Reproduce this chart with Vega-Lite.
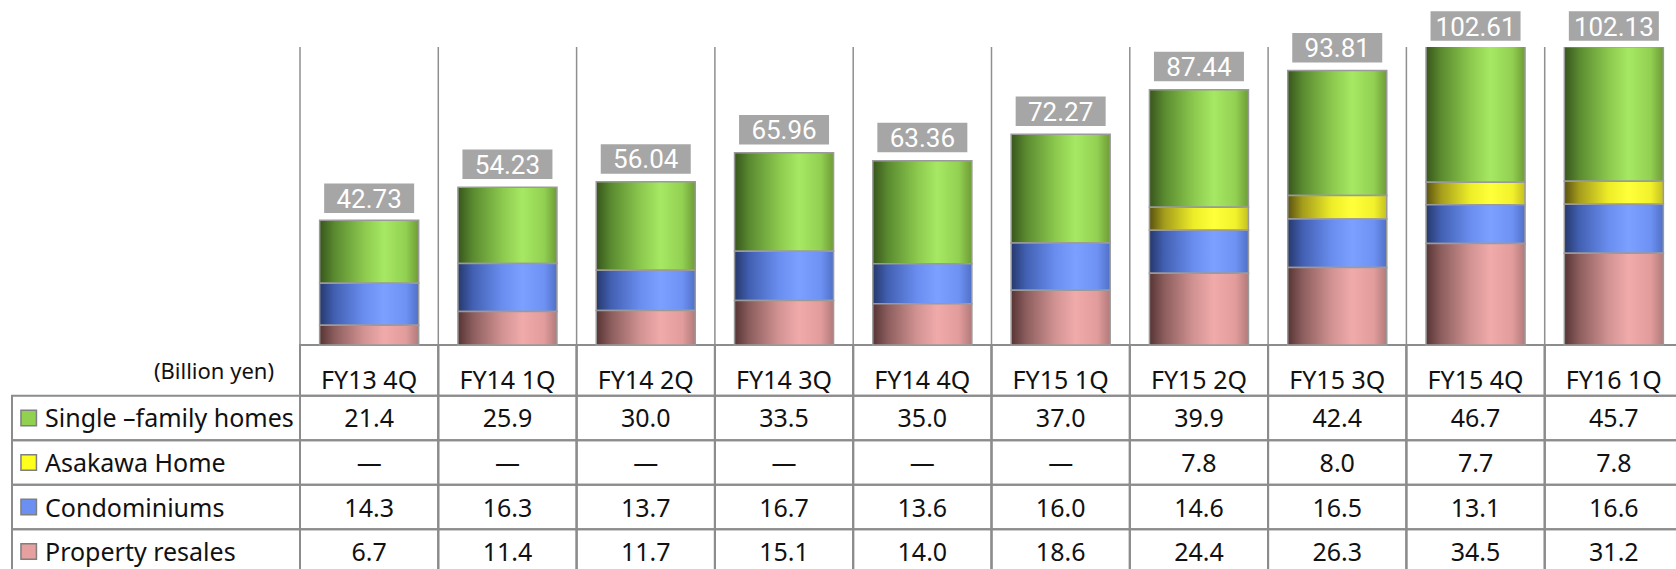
{
  "$schema": "https://vega.github.io/schema/vega-lite/v6.json",
  "width": 1664,
  "height": 522,
  "autosize": {"type": "none"},
  "padding": {"left": 12, "top": 47, "right": 0, "bottom": 0},
  "background": "white",
  "config": {"view": {"stroke": null}, "font": "Noto Sans"},
  "datasets": {
    "segments": [
      {"cat": "FY13 4Q", "series": "Single –family homes", "row": 1, "value": 21.4},
      {"cat": "FY14 1Q", "series": "Single –family homes", "row": 1, "value": 25.9},
      {"cat": "FY14 2Q", "series": "Single –family homes", "row": 1, "value": 30.0},
      {"cat": "FY14 3Q", "series": "Single –family homes", "row": 1, "value": 33.5},
      {"cat": "FY14 4Q", "series": "Single –family homes", "row": 1, "value": 35.0},
      {"cat": "FY15 1Q", "series": "Single –family homes", "row": 1, "value": 37.0},
      {"cat": "FY15 2Q", "series": "Single –family homes", "row": 1, "value": 39.9},
      {"cat": "FY15 3Q", "series": "Single –family homes", "row": 1, "value": 42.4},
      {"cat": "FY15 4Q", "series": "Single –family homes", "row": 1, "value": 46.7},
      {"cat": "FY16 1Q", "series": "Single –family homes", "row": 1, "value": 45.7},
      {"cat": "FY13 4Q", "series": "Asakawa Home", "row": 2, "value": null},
      {"cat": "FY14 1Q", "series": "Asakawa Home", "row": 2, "value": null},
      {"cat": "FY14 2Q", "series": "Asakawa Home", "row": 2, "value": null},
      {"cat": "FY14 3Q", "series": "Asakawa Home", "row": 2, "value": null},
      {"cat": "FY14 4Q", "series": "Asakawa Home", "row": 2, "value": null},
      {"cat": "FY15 1Q", "series": "Asakawa Home", "row": 2, "value": null},
      {"cat": "FY15 2Q", "series": "Asakawa Home", "row": 2, "value": 7.8},
      {"cat": "FY15 3Q", "series": "Asakawa Home", "row": 2, "value": 8.0},
      {"cat": "FY15 4Q", "series": "Asakawa Home", "row": 2, "value": 7.7},
      {"cat": "FY16 1Q", "series": "Asakawa Home", "row": 2, "value": 7.8},
      {"cat": "FY13 4Q", "series": "Condominiums", "row": 3, "value": 14.3},
      {"cat": "FY14 1Q", "series": "Condominiums", "row": 3, "value": 16.3},
      {"cat": "FY14 2Q", "series": "Condominiums", "row": 3, "value": 13.7},
      {"cat": "FY14 3Q", "series": "Condominiums", "row": 3, "value": 16.7},
      {"cat": "FY14 4Q", "series": "Condominiums", "row": 3, "value": 13.6},
      {"cat": "FY15 1Q", "series": "Condominiums", "row": 3, "value": 16.0},
      {"cat": "FY15 2Q", "series": "Condominiums", "row": 3, "value": 14.6},
      {"cat": "FY15 3Q", "series": "Condominiums", "row": 3, "value": 16.5},
      {"cat": "FY15 4Q", "series": "Condominiums", "row": 3, "value": 13.1},
      {"cat": "FY16 1Q", "series": "Condominiums", "row": 3, "value": 16.6},
      {"cat": "FY13 4Q", "series": "Property resales", "row": 4, "value": 6.7},
      {"cat": "FY14 1Q", "series": "Property resales", "row": 4, "value": 11.4},
      {"cat": "FY14 2Q", "series": "Property resales", "row": 4, "value": 11.7},
      {"cat": "FY14 3Q", "series": "Property resales", "row": 4, "value": 15.1},
      {"cat": "FY14 4Q", "series": "Property resales", "row": 4, "value": 14.0},
      {"cat": "FY15 1Q", "series": "Property resales", "row": 4, "value": 18.6},
      {"cat": "FY15 2Q", "series": "Property resales", "row": 4, "value": 24.4},
      {"cat": "FY15 3Q", "series": "Property resales", "row": 4, "value": 26.3},
      {"cat": "FY15 4Q", "series": "Property resales", "row": 4, "value": 34.5},
      {"cat": "FY16 1Q", "series": "Property resales", "row": 4, "value": 31.2}
    ],
    "totals": [
      {"cat": "FY13 4Q", "total": 42.73},
      {"cat": "FY14 1Q", "total": 54.23},
      {"cat": "FY14 2Q", "total": 56.04},
      {"cat": "FY14 3Q", "total": 65.96},
      {"cat": "FY14 4Q", "total": 63.36},
      {"cat": "FY15 1Q", "total": 72.27},
      {"cat": "FY15 2Q", "total": 87.44},
      {"cat": "FY15 3Q", "total": 93.81},
      {"cat": "FY15 4Q", "total": 102.61},
      {"cat": "FY16 1Q", "total": 102.13}
    ],
    "series": [
      {"series": "Single –family homes"},
      {"series": "Asakawa Home"},
      {"series": "Condominiums"},
      {"series": "Property resales"}
    ],
    "unit": [{"t": "(Billion yen)"}]
  },
  "layer": [
    {
      "data": {"name": "totals"},
      "mark": {"type": "rule", "color": "#8f8f8f", "strokeWidth": 1.5},
      "encoding": {
        "x": {"field": "cat", "type": "nominal", "bandPosition": 0, "axis": null,
          "scale": {"domain": ["FY13 4Q","FY14 1Q","FY14 2Q","FY14 3Q","FY14 4Q","FY15 1Q","FY15 2Q","FY15 3Q","FY15 4Q","FY16 1Q"], "range": [288, 1671], "paddingInner": 0, "paddingOuter": 0}}
      }
    },
    {
      "data": {"name": "totals"},
      "mark": {"type": "rect", "fill": "transparent", "stroke": "#8c8c8c", "strokeWidth": 2},
      "encoding": {
        "x": {"field": "cat", "type": "nominal", "axis": null,
          "scale": {"domain": ["FY13 4Q","FY14 1Q","FY14 2Q","FY14 3Q","FY14 4Q","FY15 1Q","FY15 2Q","FY15 3Q","FY15 4Q","FY16 1Q"], "range": [288, 1671], "paddingInner": 0, "paddingOuter": 0}},
        "y": {"datum": "header", "type": "nominal", "axis": null,
          "scale": {"domain": ["header"], "range": [298, 348.7], "paddingInner": 0, "paddingOuter": 0}}
      }
    },
    {
      "data": {"name": "segments"},
      "mark": {"type": "rect", "fill": "transparent", "stroke": "#8c8c8c", "strokeWidth": 2},
      "encoding": {
        "x": {"field": "cat", "type": "nominal", "axis": null,
          "scale": {"domain": ["FY13 4Q","FY14 1Q","FY14 2Q","FY14 3Q","FY14 4Q","FY15 1Q","FY15 2Q","FY15 3Q","FY15 4Q","FY16 1Q"], "range": [288, 1671], "paddingInner": 0, "paddingOuter": 0}},
        "y": {"field": "series", "type": "nominal", "axis": null,
          "scale": {"domain": ["Single –family homes","Asakawa Home","Condominiums","Property resales"], "range": [348.7, 526.8], "paddingInner": 0, "paddingOuter": 0}}
      }
    },
    {
      "data": {"name": "series"},
      "mark": {"type": "rect", "fill": "transparent", "stroke": "#8c8c8c", "strokeWidth": 2},
      "encoding": {
        "x": {"datum": "label", "type": "nominal", "axis": null,
          "scale": {"domain": ["label"], "range": [0, 288], "paddingInner": 0, "paddingOuter": 0}},
        "y": {"field": "series", "type": "nominal", "axis": null,
          "scale": {"domain": ["Single –family homes","Asakawa Home","Condominiums","Property resales"], "range": [348.7, 526.8], "paddingInner": 0, "paddingOuter": 0}}
      }
    },
    {
      "data": {"name": "segments"},
      "mark": {"type": "bar", "width": {"band": 0.716}, "stroke": "#9a9a9a", "strokeWidth": 1.5, "clip": true},
      "encoding": {
        "x": {"field": "cat", "type": "nominal", "axis": null,
          "scale": {"domain": ["FY13 4Q","FY14 1Q","FY14 2Q","FY14 3Q","FY14 4Q","FY15 1Q","FY15 2Q","FY15 3Q","FY15 4Q","FY16 1Q"], "range": [288, 1671], "paddingInner": 0, "paddingOuter": 0}},
        "y": {"field": "value", "type": "quantitative", "stack": "zero", "axis": null,
          "scale": {"domain": [0, 101.2], "range": [298, 0], "nice": false, "zero": false}},
        "detail": {"field": "series", "type": "nominal"},
        "order": {"field": "row", "type": "quantitative", "sort": "descending"},
        "fill": {
          "condition": [
            {"test": "datum.row === 1", "value": {"gradient": "linear", "x1": 0, "y1": 0, "x2": 1, "y2": 0, "stops": [
              {"offset": 0, "color": "#38561c"}, {"offset": 0.15, "color": "#5a8a30"}, {"offset": 0.45, "color": "#8cc94e"},
              {"offset": 0.65, "color": "#a6e863"}, {"offset": 0.87, "color": "#92d052"}, {"offset": 1, "color": "#6e9c36"}]}},
            {"test": "datum.row === 2", "value": {"gradient": "linear", "x1": 0, "y1": 0, "x2": 1, "y2": 0, "stops": [
              {"offset": 0, "color": "#5a5210"}, {"offset": 0.15, "color": "#a49c1c"}, {"offset": 0.45, "color": "#eeee28"},
              {"offset": 0.65, "color": "#ffff3a"}, {"offset": 0.87, "color": "#f2f22c"}, {"offset": 1, "color": "#c4c020"}]}},
            {"test": "datum.row === 3", "value": {"gradient": "linear", "x1": 0, "y1": 0, "x2": 1, "y2": 0, "stops": [
              {"offset": 0, "color": "#26386c"}, {"offset": 0.15, "color": "#4260b2"}, {"offset": 0.45, "color": "#6a8ef0"},
              {"offset": 0.65, "color": "#7ca0ff"}, {"offset": 0.87, "color": "#6e92f4"}, {"offset": 1, "color": "#5070c6"}]}}
          ],
          "value": {"gradient": "linear", "x1": 0, "y1": 0, "x2": 1, "y2": 0, "stops": [
            {"offset": 0, "color": "#573434"}, {"offset": 0.15, "color": "#8c5d5d"}, {"offset": 0.45, "color": "#d39393"},
            {"offset": 0.65, "color": "#f0aaaa"}, {"offset": 0.87, "color": "#e29c9c"}, {"offset": 1, "color": "#b27a7a"}]}
        }
      }
    },
    {
      "data": {"name": "totals"},
      "mark": {"type": "point", "shape": "M-1,-0.327H1V0.327H-1Z", "size": 8100, "filled": true, "fill": "#a6a6a6", "opacity": 1, "strokeWidth": 0, "yOffset": -21},
      "encoding": {
        "x": {"field": "cat", "type": "nominal", "axis": null,
          "scale": {"domain": ["FY13 4Q","FY14 1Q","FY14 2Q","FY14 3Q","FY14 4Q","FY15 1Q","FY15 2Q","FY15 3Q","FY15 4Q","FY16 1Q"], "range": [288, 1671], "paddingInner": 0, "paddingOuter": 0}},
        "y": {"field": "total", "type": "quantitative", "axis": null,
          "scale": {"domain": [0, 101.2], "range": [298, 0], "nice": false, "zero": false, "clamp": true}}
      }
    },
    {
      "data": {"name": "totals"},
      "mark": {"type": "text", "font": "Roboto", "fontSize": 26, "color": "white", "align": "center", "baseline": "middle", "yOffset": -19.5},
      "encoding": {
        "x": {"field": "cat", "type": "nominal", "axis": null,
          "scale": {"domain": ["FY13 4Q","FY14 1Q","FY14 2Q","FY14 3Q","FY14 4Q","FY15 1Q","FY15 2Q","FY15 3Q","FY15 4Q","FY16 1Q"], "range": [288, 1671], "paddingInner": 0, "paddingOuter": 0}},
        "y": {"field": "total", "type": "quantitative", "axis": null,
          "scale": {"domain": [0, 101.2], "range": [298, 0], "nice": false, "zero": false, "clamp": true}},
        "text": {"field": "total", "type": "quantitative", "format": ".2f"}
      }
    },
    {
      "data": {"name": "totals"},
      "mark": {"type": "text", "fontSize": 25, "color": "#111111", "align": "center", "baseline": "alphabetic", "dy": 19},
      "encoding": {
        "x": {"field": "cat", "type": "nominal", "axis": null,
          "scale": {"domain": ["FY13 4Q","FY14 1Q","FY14 2Q","FY14 3Q","FY14 4Q","FY15 1Q","FY15 2Q","FY15 3Q","FY15 4Q","FY16 1Q"], "range": [288, 1671], "paddingInner": 0, "paddingOuter": 0}},
        "y": {"datum": "header", "type": "nominal", "axis": null,
          "scale": {"domain": ["header"], "range": [298, 348.7], "paddingInner": 0, "paddingOuter": 0}},
        "text": {"field": "cat", "type": "nominal"}
      }
    },
    {
      "data": {"name": "segments"},
      "mark": {"type": "text", "fontSize": 25, "color": "#111111", "align": "center", "baseline": "alphabetic", "dy": 9.5},
      "encoding": {
        "x": {"field": "cat", "type": "nominal", "axis": null,
          "scale": {"domain": ["FY13 4Q","FY14 1Q","FY14 2Q","FY14 3Q","FY14 4Q","FY15 1Q","FY15 2Q","FY15 3Q","FY15 4Q","FY16 1Q"], "range": [288, 1671], "paddingInner": 0, "paddingOuter": 0}},
        "y": {"field": "series", "type": "nominal", "axis": null,
          "scale": {"domain": ["Single –family homes","Asakawa Home","Condominiums","Property resales"], "range": [348.7, 526.8], "paddingInner": 0, "paddingOuter": 0}},
        "text": {"condition": {"test": "datum.value === null", "value": "—"}, "field": "value", "type": "quantitative", "format": ".1f"}
      }
    },
    {
      "data": {"name": "series"},
      "mark": {"type": "text", "fontSize": 25, "color": "#111111", "align": "left", "baseline": "alphabetic", "dx": -111, "dy": 9.5},
      "encoding": {
        "x": {"datum": "label", "type": "nominal", "axis": null,
          "scale": {"domain": ["label"], "range": [0, 288], "paddingInner": 0, "paddingOuter": 0}},
        "y": {"field": "series", "type": "nominal", "axis": null,
          "scale": {"domain": ["Single –family homes","Asakawa Home","Condominiums","Property resales"], "range": [348.7, 526.8], "paddingInner": 0, "paddingOuter": 0}},
        "text": {"field": "series", "type": "nominal"}
      }
    },
    {
      "data": {"name": "series"},
      "mark": {"type": "point", "shape": "square", "size": 240, "filled": true, "opacity": 1, "stroke": "#7f7f7f", "strokeWidth": 1.5, "xOffset": -127.3},
      "encoding": {
        "x": {"datum": "label", "type": "nominal", "axis": null,
          "scale": {"domain": ["label"], "range": [0, 288], "paddingInner": 0, "paddingOuter": 0}},
        "y": {"field": "series", "type": "nominal", "axis": null,
          "scale": {"domain": ["Single –family homes","Asakawa Home","Condominiums","Property resales"], "range": [348.7, 526.8], "paddingInner": 0, "paddingOuter": 0}},
        "fill": {"field": "series", "type": "nominal", "legend": null,
          "scale": {"domain": ["Single –family homes","Asakawa Home","Condominiums","Property resales"], "range": ["#92d050", "#ffff1e", "#6c8ff2", "#e6a0a0"]}}
      }
    },
    {
      "data": {"name": "unit"},
      "mark": {"type": "text", "fontSize": 22, "color": "#111111", "align": "right", "baseline": "alphabetic", "dx": 118, "dy": 9},
      "encoding": {
        "x": {"datum": "label", "type": "nominal", "axis": null,
          "scale": {"domain": ["label"], "range": [0, 288], "paddingInner": 0, "paddingOuter": 0}},
        "y": {"datum": "header", "type": "nominal", "axis": null,
          "scale": {"domain": ["header"], "range": [298, 348.7], "paddingInner": 0, "paddingOuter": 0}},
        "text": {"field": "t", "type": "nominal"}
      }
    }
  ],
  "resolve": {"scale": {"x": "independent", "y": "independent", "fill": "independent"}}
}
